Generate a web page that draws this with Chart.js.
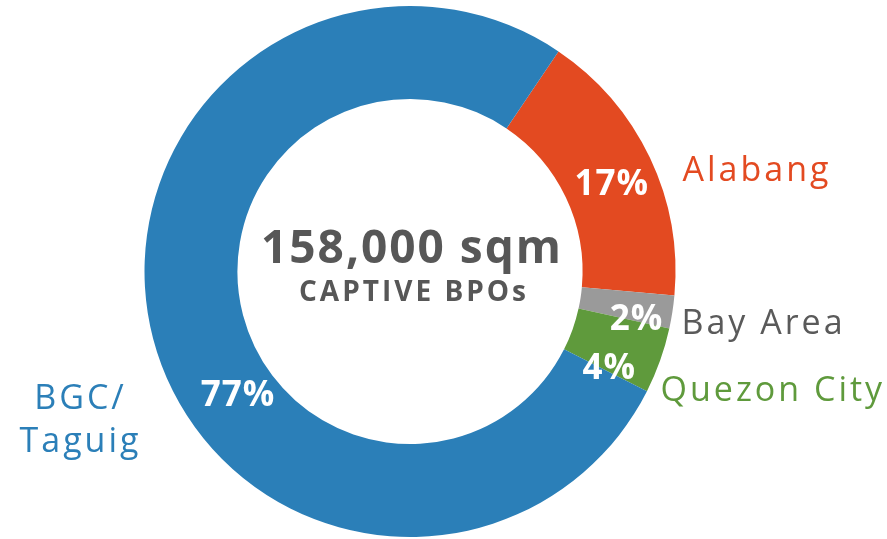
<!DOCTYPE html>
<html>
<head>
<meta charset="utf-8">
<script src="https://cdn.jsdelivr.net/npm/chart.js@4.4.1/dist/chart.umd.min.js"></script>
<style>
  html, body { margin: 0; padding: 0; background: #fff; }
  #wrap { width: 887px; height: 539px; }
</style>
</head>
<body>
<div id="wrap"><canvas id="bpoChart"></canvas></div>
<script>
// data
var labels = ['Alabang', 'Bay Area', 'Quezon City', 'BGC/\nTaguig'];
var shares = [17, 2, 4, 77];
var colors = ['#e34a21', '#9a9a9a', '#5f9a3c', '#2b7fb8'];
var labelColors = ['#e34a21', '#5a5a5a', '#5f9a3c', '#2b7fb8'];
var totalText = '158,000 sqm';
var subText = 'CAPTIVE BPOs';

var FONT = '"Open Sans", sans-serif';

// nudges for the % labels (from the arc centre point) and the outside names
var pctShift = [[4, 7], [10, 15], [-7, 24], [40, 69]];
var nameAnchor = [
    { side: 'right', dx: 7, dy: -100, align: 'left' },
    { side: 'right', dx: 6, dy: 53, align: 'left' },
    { side: 'right', dx: -15, dy: 120, align: 'left' },
    { side: 'left', dx: -64, dy: 149, align: 'center' }
];

var donutLabels = {
    id: 'donutLabels',
    afterDatasetsDraw: function (chart) {
        var ctx = chart.ctx;
        var meta = chart.getDatasetMeta(0);
        var first = meta.data[0];
        var cx = first.x, cy = first.y, r = first.outerRadius;

        ctx.save();
        ctx.textBaseline = 'middle';

        // percent inside each slice
        ctx.fillStyle = '#fff';
        ctx.font = 'bold 35px ' + FONT;
        ctx.letterSpacing = '1px';
        ctx.textAlign = 'center';
        meta.data.forEach(function (arc, i) {
            var p = arc.tooltipPosition();
            ctx.fillText(shares[i] + '%', p.x + pctShift[i][0], p.y + pctShift[i][1]);
        });

        // names outside the ring
        ctx.font = '34px ' + FONT;
        ctx.letterSpacing = '3px';
        labels.forEach(function (name, i) {
            var a = nameAnchor[i];
            var x = a.side === 'right' ? cx + r + a.dx : cx - r + a.dx;
            var y = cy + a.dy;
            ctx.fillStyle = labelColors[i];
            ctx.textAlign = a.align;
            var lines = name.split('\n');
            lines.forEach(function (ln, k) {
                ctx.fillText(ln, x, y + (k - (lines.length - 1) / 2) * 43);
            });
        });

        // centre text
        ctx.fillStyle = '#575757';
        ctx.textAlign = 'center';
        ctx.font = 'bold 46px ' + FONT;
        ctx.letterSpacing = '2px';
        ctx.fillText(totalText, cx + 2, cy - 22);
        ctx.font = 'bold 28px ' + FONT;
        ctx.letterSpacing = '3px';
        ctx.fillText(subText, cx + 4, cy + 22);
        ctx.restore();
    }
};

new Chart(document.getElementById('bpoChart'), {
    type: 'doughnut',
    data: {
        labels: labels,
        datasets: [{
            data: shares,
            backgroundColor: colors,
            borderWidth: 0
        }]
    },
    options: {
        responsive: true,
        maintainAspectRatio: false,
        animation: false,
        rotation: 34,
        cutout: '65%',
        layout: { padding: { top: 6, bottom: 2, left: 0, right: 67 } },
        plugins: {
            legend: { display: false },
            tooltip: { enabled: false }
        }
    },
    plugins: [donutLabels]
});
</script>
</body>
</html>
